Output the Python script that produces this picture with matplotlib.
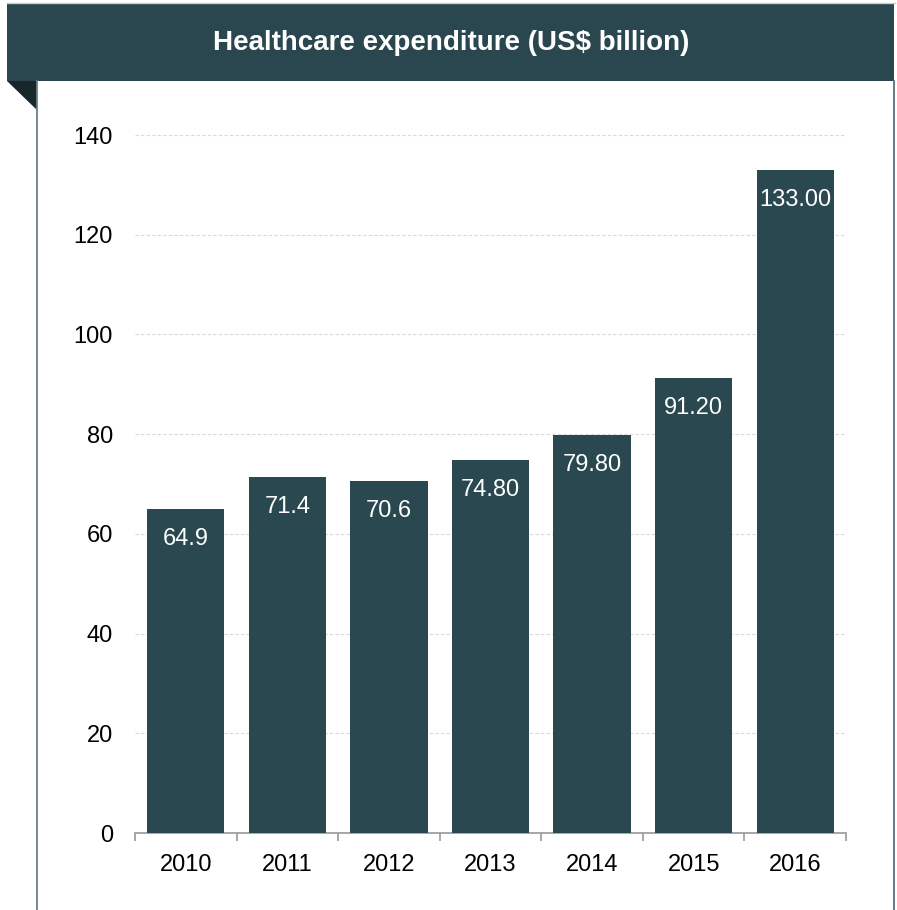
import matplotlib
matplotlib.use("Agg")
import matplotlib.pyplot as plt
from matplotlib.patches import Rectangle, Polygon
from matplotlib.lines import Line2D

years = ["2010", "2011", "2012", "2013", "2014", "2015", "2016"]
values = [64.9, 71.4, 70.6, 74.8, 79.8, 91.2, 133.0]
value_labels = ["64.9", "71.4", "70.6", "74.80", "79.80", "91.20", "133.00"]
title = "Healthcare expenditure (US$ billion)"
yticks = [0, 20, 40, 60, 80, 100, 120, 140]

plt.rcParams['font.family'] = ['Liberation Sans', 'DejaVu Sans']

W, H = 897, 910
fig = plt.figure(figsize=(W / 100, H / 100), dpi=100)
fig.patch.set_facecolor("white")

def fx(x):
    return x / W

def fy(y):
    return 1 - y / H

header_col = "#2a474f"
# header band
fig.add_artist(Rectangle((fx(7), fy(81)), fx(894) - fx(7), fy(3.5) - fy(81),
                         transform=fig.transFigure, facecolor=header_col,
                         edgecolor="none", zorder=1))
fig.add_artist(Line2D([fx(7), fx(895)], [fy(3.2), fy(3.2)], transform=fig.transFigure,
                      color="#c8cdd0", lw=1.0, zorder=2))
# fold triangle
fig.add_artist(Polygon([(fx(7), fy(81)), (fx(36.5), fy(81)), (fx(36.5), fy(110))],
                       closed=True, transform=fig.transFigure, facecolor="#17272b",
                       edgecolor="none", zorder=1))
# side lines
fig.add_artist(Line2D([fx(36.8), fx(36.8)], [fy(81), fy(910)], transform=fig.transFigure,
                      color="#6b8088", lw=1.3, zorder=2))
fig.add_artist(Line2D([fx(894.3), fx(894.3)], [fy(81), fy(910)], transform=fig.transFigure,
                      color="#5d7178", lw=1.3, zorder=2))
fig.text(fx(451.5), fy(43), title, color="white", fontsize=20, fontweight="bold",
         ha="center", va="center", zorder=3)

ax = fig.add_axes([fx(135), fy(833), fx(846) - fx(135), fy(135) - fy(833)])
x = list(range(len(years)))
bars = ax.bar(x, values, width=0.76, color="#2a4850", zorder=3)
ax.set_xlim(-0.5, len(years) - 0.5)
ax.set_ylim(0, 140)
ax.set_yticks(yticks)
ax.set_yticklabels([str(t) for t in yticks])
ax.set_xticks(x)
ax.set_xticklabels(years)
ax.set_xticks([i - 0.5 for i in range(len(years) + 1)], minor=True)
ax.tick_params(axis="x", which="major", length=0, pad=15, labelsize=17, colors="black")
ax.tick_params(axis="x", which="minor", length=5.5, width=1.3, color="#a0a0a0")
ax.tick_params(axis="y", length=0, pad=16, labelsize=17, colors="black")
for s in ["top", "right", "left"]:
    ax.spines[s].set_visible(False)
ax.spines["bottom"].set_color("#a0a0a0")
ax.spines["bottom"].set_linewidth(1.3)
for t in yticks[1:]:
    ax.axhline(t, color="#d8d8d8", lw=0.8, ls=(0, (3, 2)), zorder=1)

for xi, v, lab in zip(x, values, value_labels):
    ax.annotate(lab, (xi, v), xytext=(0, -21.5), textcoords="offset points",
                ha="center", va="center", color="white", fontsize=17, zorder=4)

fig.savefig("out.png", dpi=100)
